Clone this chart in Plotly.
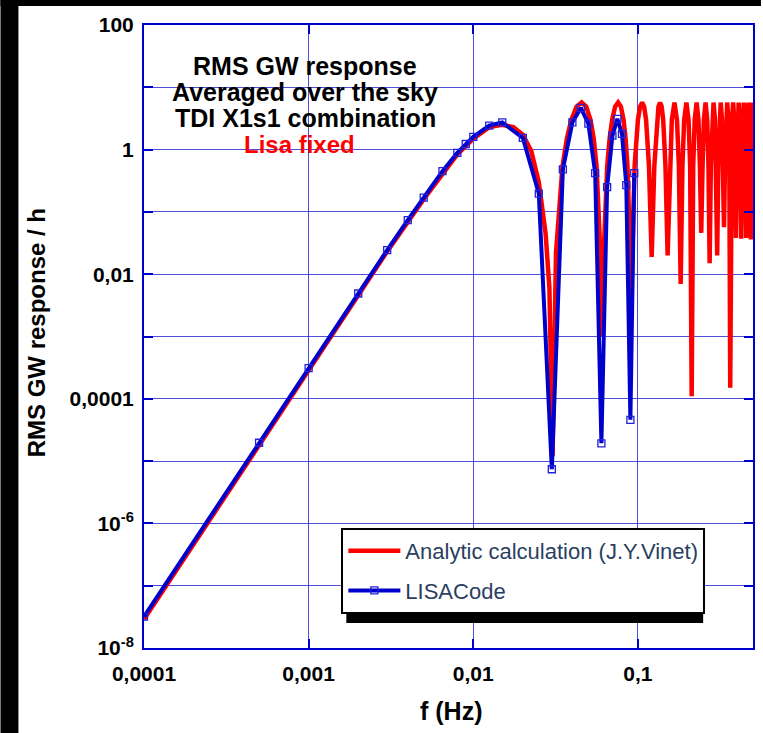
import plotly.graph_objects as go

# ---------------- data ----------------
analytic_f = [
    1e-4, 1e-3, 3e-3, 5e-3, 6.5e-3, 8e-3, 0.01, 0.0125, 0.015, 0.0175, 0.02, 0.0225, 0.025, 0.0275, 0.029, 0.0303,
    0.0318, 0.0348, 0.0370, 0.0394, 0.0424, 0.0455, 0.0485, 0.0515, 0.0539, 0.0561, 0.0591, 0.0606,
    0.0621, 0.0651, 0.0673, 0.0697, 0.0727, 0.0758, 0.0788, 0.0818, 0.0842, 0.0864, 0.0894, 0.0909,
    0.0955, 0.1000, 0.1030, 0.1061, 0.1091, 0.1121, 0.1167, 0.1212,
    0.1258, 0.1303, 0.1333, 0.1364, 0.1394, 0.1424, 0.1470, 0.1515,
    0.1561, 0.1606, 0.1667, 0.1727, 0.1773, 0.1818,
    0.1864, 0.1909, 0.1970, 0.2030, 0.2076, 0.2121,
    0.2167, 0.2212, 0.2273, 0.2333, 0.2379, 0.2424,
    0.2470, 0.2515, 0.2576, 0.2636, 0.2682, 0.2727,
    0.2773, 0.2818, 0.2879, 0.2939, 0.2985, 0.3030,
    0.3076, 0.3121, 0.3182, 0.3242, 0.3288, 0.3333,
    0.3379, 0.3424, 0.3485, 0.3545, 0.3591, 0.3636,
    0.3682, 0.3727, 0.3788, 0.3848, 0.3894, 0.3939,
    0.3985, 0.4030, 0.4091, 0.4151, 0.4197, 0.4242,
    0.4288, 0.4333, 0.4394, 0.4454, 0.4500, 0.4545,
    0.4591, 0.4636, 0.4697, 0.4757, 0.4803, 0.4848,
    0.4894, 0.4939, 0.5000,
]
analytic_v = [
    2.9e-8, 2.9e-4, 0.0232, 0.16, 0.42, 0.84, 1.5, 2.3, 2.5, 2.3, 1.74, 0.95, 0.30, 0.045, 0.006, 1.2e-5,
    0.022, 0.53, 1.5, 3.0, 4.9, 5.7, 4.9, 3.0, 1.5, 0.53, 0.022, 1.0e-3,
    0.025, 0.55, 1.5, 3.0, 4.9, 5.7, 4.9, 3.0, 1.5, 0.55, 0.03, 3.0e-3,
    0.55, 3.0, 4.9, 5.7, 4.9, 3.0, 0.55, 0.019,
    0.55, 3.0, 4.9, 5.7, 4.9, 3.0, 0.55, 0.02,
    0.55, 3.0, 5.7, 3.0, 0.55, 0.007,
    0.55, 3.0, 5.7, 3.0, 0.55, 1.1e-4,
    0.55, 3.0, 5.7, 3.0, 0.55, 0.046,
    0.55, 3.0, 5.7, 3.0, 0.55, 0.015,
    0.55, 3.0, 5.7, 3.0, 0.55, 0.02,
    0.55, 3.0, 5.7, 3.0, 0.55, 0.057,
    0.55, 3.0, 5.7, 3.0, 0.55, 1.5e-4,
    0.55, 3.0, 5.7, 3.0, 0.55, 0.038,
    0.55, 3.0, 5.7, 3.0, 0.55, 0.037,
    0.55, 3.0, 5.7, 3.0, 0.55, 0.038,
    0.55, 3.0, 5.7, 3.0, 0.55, 0.036,
    0.55, 3.0, 5.7,
]

lisacode_f = [1e-4, 5e-4, 1e-3, 2e-3, 3e-3, 4e-3, 5e-3, 6.5e-3, 8e-3, 9e-3, 0.01, 0.0125, 0.015, 0.02, 0.025,
              0.03, 0.035, 0.04, 0.045, 0.05, 0.055, 0.06, 0.065, 0.07, 0.075, 0.08, 0.085, 0.09, 0.095]
lisacode_v = [3.2e-8, 1.97e-5, 3.1e-4, 4.9e-3, 0.0244, 0.074, 0.169, 0.45, 0.885, 1.23, 1.6, 2.43, 2.74, 1.54, 0.197,
              7.4e-6, 0.48, 2.74, 4.67, 2.61, 0.42, 1.93e-5, 0.25, 1.68, 3.11, 1.79, 0.27, 4.6e-5, 0.42]

x_tickvals = [1e-4, 1e-3, 1e-2, 1e-1]
x_ticktext = ["0,0001", "0,001", "0,01", "0,1"]
y_tickvals = [1e-8, 1e-6, 1e-4, 1e-2, 1, 100]
y_ticktext = ["10<sup>-8</sup>", "10<sup>-6</sup>", "0,0001", "0,01", "1", "100"]
y_minor_vals = [1e-7, 1e-5, 1e-3, 1e-1, 10]

title_lines = ["RMS GW response", "Averaged over the sky", "TDI X1s1 combination"]
subtitle = "Lisa fixed"

# ---------------- figure ----------------
W, H = 763, 733
ML, MR, MT, MB = 144, 8, 25, 85
PW, PH = W - ML - MR, H - MT - MB


def px(x):
    return (x - ML) / PW


def py(y):
    return (H - MB - y) / PH


FONT = "Arial, Liberation Sans, Helvetica, sans-serif"
AXBLUE = "#0000CC"
GRID = "rgba(20,20,210,0.75)"

fig = go.Figure()
fig.add_trace(go.Scatter(
    x=analytic_f, y=analytic_v, mode="lines", name="Analytic calculation (J.Y.Vinet)",
    line=dict(color="#FF0000", width=4.5), legendgroup="a",
))
fig.add_trace(go.Scatter(
    x=lisacode_f, y=lisacode_v, mode="lines+markers", name="LISACode",
    line=dict(color="#0000CC", width=4),
    marker=dict(symbol="square-open", size=7, color="#2020DD", line=dict(width=1.3)),
    legendgroup="b",
))

axis_common = dict(
    type="log", showline=True, linecolor=AXBLUE, linewidth=2, mirror="ticks",
    ticks="inside", ticklen=9, tickcolor=AXBLUE, tickwidth=1.5,
    showgrid=True, gridcolor=GRID, gridwidth=1,
    tickfont=dict(family=FONT, size=21, color="black", weight="bold"),
    zeroline=False,
)

fig.update_xaxes(range=[-4, -0.30103], tickvals=x_tickvals, ticktext=x_ticktext,
                 ticklabelstandoff=6, **axis_common)
fig.update_yaxes(range=[-8, 2], tickvals=y_tickvals, ticktext=y_ticktext,
                 ticklabelstandoff=4,
                 minor=dict(tickvals=y_minor_vals, showgrid=True, gridcolor=GRID, gridwidth=1,
                            ticks="inside", ticklen=9, tickcolor=AXBLUE, tickwidth=1.5),
                 **axis_common)

annotations = []
ys = [66, 92, 118]
for t, yy in zip(title_lines, ys):
    annotations.append(dict(text=t, xref="paper", yref="paper", x=px(306), y=py(yy),
                            showarrow=False, xanchor="center", yanchor="middle",
                            font=dict(family=FONT, size=25, color="black", weight="bold")))
annotations.append(dict(text=subtitle, xref="paper", yref="paper", x=px(300), y=py(144),
                        showarrow=False, xanchor="center", yanchor="middle",
                        font=dict(family=FONT, size=24, color="#FF0000", weight="bold")))
annotations.append(dict(text="RMS GW response / h", xref="paper", yref="paper", x=px(36), y=py(333),
                        showarrow=False, xanchor="center", yanchor="middle", textangle=-90,
                        font=dict(family=FONT, size=24, color="black", weight="bold")))
annotations.append(dict(text="f (Hz)", xref="paper", yref="paper", x=px(452), y=py(711),
                        showarrow=False, xanchor="center", yanchor="middle",
                        font=dict(family=FONT, size=25, color="black", weight="bold")))

shapes = [
    # black frame bands (left and top)
    dict(type="rect", xref="paper", yref="paper", x0=px(0), x1=px(18), y0=py(H), y1=py(0),
         fillcolor="black", line=dict(width=0), layer="above"),
    dict(type="rect", xref="paper", yref="paper", x0=px(0), x1=px(W), y0=py(6), y1=py(0),
         fillcolor="black", line=dict(width=0), layer="above"),
    # legend drop shadow
    dict(type="rect", xref="paper", yref="paper", x0=px(347), x1=px(705), y0=py(623), y1=py(533),
         fillcolor="black", line=dict(width=0), layer="above"),
]

fig.update_layout(
    width=W, height=H,
    margin=dict(l=ML, r=MR, t=MT, b=MB, pad=0),
    paper_bgcolor="white", plot_bgcolor="white",
    font=dict(family=FONT),
    showlegend=True,
    legend=dict(x=px(342), y=py(528), xanchor="left", yanchor="top",
                bgcolor="white", bordercolor="black", borderwidth=2,
                font=dict(family=FONT, size=22), itemwidth=52,
                traceorder="grouped", tracegroupgap=8),
    annotations=annotations, shapes=shapes,
)

fig.write_html(
    "out.html",
    config={"displayModeBar": False},
    post_script="document.body.style.margin='0px';document.body.style.padding='0px';"
                "document.body.style.overflow='hidden';"
                "document.documentElement.style.overflow='hidden';",
)
